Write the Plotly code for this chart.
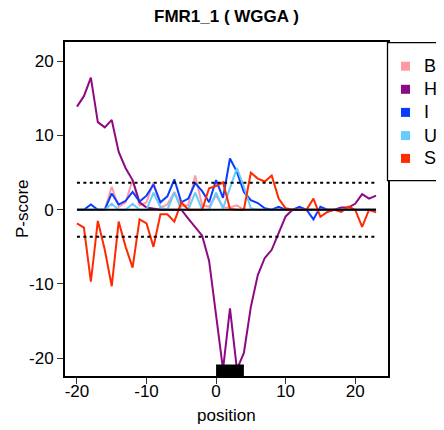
import plotly.graph_objects as go

# ---------------- data ----------------
positions = list(range(-20, 24))
series_names = ["B", "H", "I", "U", "S"]
series_colors = ["#FF9AA2", "#8E0A83", "#0A3CFF", "#66CCFF", "#FF2A00"]

B = [0, 0, 0, 0, 0, 3.1, 0.4, 1.0, 4.0, 0.6,
     1.0, 3.7, 0.3, 0.7, 2.4, 0.5, 0.6, 4.6, 0.6, 0.4,
     2.0, 0.3, 0.3, 0.6, 0, 0, 0, 0, 0, 0,
     0, 0, 0, 0, 0, 0, 0, 0, 0, 0,
     0, 0, 0, 0]
H = [13.9, 15.3, 17.8, 11.8, 11.1, 12.1, 7.8, 5.6, 4.0, 1.0,
     0.3, 0.1, 0.0, 0.0, 0.0, 0.0, -1.2, -2.3, -3.5, -6.9,
     -14.0, -21.5, -13.3, -21.5, -19.3, -13.1, -8.8, -6.5, -5.4, -3.2,
     -0.9, 0.0, 0.0, 0.0, 0.0, 0.0, 0.0, 0.0, 0.3, 0.3,
     0.8, 2.1, 1.5, 1.9]
I = [0, 0, 0.7, 0, 0, 2.2, 0.7, 1.2, 2.4, 1.1,
     1.9, 3.4, 1.0, 1.8, 4.1, 1.0, 1.5, 3.6, 2.5, 1.0,
     4.0, 1.6, 6.9, 5.1, 2.4, 1.3, 0.9, 0.2, 0.0, 0.4,
     0, 0, 0.4, 0, -1.3, 0.4, 0, 0, 0, 0,
     0, 0, 0, 0]
U = [0, 0, 0, 0, 0, 0.8, 0, 0, 0.8, 0,
     0, 2.3, 0.3, 0, 2.3, 0, 0, 2.3, 0, 0,
     2.3, 0.2, 3.0, 5.6, 3.1, 0.2, 0, 0, 0, 0,
     0, 0, 0, 0, 0, 0, 0, 0, 0, 0,
     0, 0, 0, 0]
S = [-1.85, -2.4, -9.7, -1.5, -5.4, -10.3, -1.6, -5.0, -7.8, -1.3,
     -1.85, -5.0, -0.6, -0.6, -1.6, 1.0, 0.0, 0.0, 0.0, 2.9,
     3.2, 3.7, 0.1, 0.0, 0.0, 5.0, 4.2, 3.8, 4.6, 1.5,
     0.2, 0.0, 0.0, 0.0, 1.5, -0.95, -0.3, 0.0, -0.3, 0.4,
     0.0, -2.3, 0.0, -0.35]
series_values = [B, H, I, U, S]

threshold = 3.65
motif_start, motif_end = 0, 4
x_ticks = [-20, -10, 0, 10, 20]
x_tick_labels = ["-20", "-10", "0", "10", "20"]
y_ticks = [-20, -10, 0, 10, 20]
y_tick_labels = ["-20", "-10", "0", "10", "20"]
title_text = "FMR1_1 ( WGGA )"

# ---------------- layout geometry ----------------
# the page body has an 8px default margin, so the figure is shrunk and shifted
OFF = 8
W, Hpx = 444, 430                      # target picture size
FW, FH = W - OFF, Hpx - OFF            # figure size
PL, PR, PT, PB = 65, 388, 42, 376      # plot box in target pixel coords
ML, MT = PL - OFF, PT - OFF
MR, MB = W - PR, Hpx - PB
x_range = [-21.72, 24.72]
y_range = [-22.4, 22.6]
FONT = "Liberation Sans, Arial, Helvetica, sans-serif"
FS = 17

pw = PR - PL
ph = PB - PT


def px_x(px):
    return (px - PL) / pw


def px_y(py):
    return (PB - py) / ph


fig = go.Figure()

for name, color, vals in zip(series_names, series_colors, series_values):
    fig.add_trace(go.Scatter(x=positions, y=vals, mode="lines", name=name,
                             line=dict(color=color, width=2), showlegend=False))

# reference lines
xmin, xmax = positions[0], positions[-1]
fig.add_trace(go.Scatter(x=[xmin, xmax], y=[0, 0], mode="lines",
                         line=dict(color="black", width=2.2), showlegend=False))
for t in (threshold, -threshold):
    fig.add_trace(go.Scatter(x=[xmin, xmax], y=[t, t], mode="lines",
                             line=dict(color="black", width=2, dash="3px,3.4px"),
                             showlegend=False))

shapes = [
    dict(type="rect", xref="x", yref="y", x0=motif_start, x1=motif_end,
         y0=y_range[0], y1=-20.85, fillcolor="black", line=dict(width=0),
         layer="above"),
    # legend box
    dict(type="rect", xref="paper", yref="paper", x0=px_x(387.5), x1=px_x(470),
         y0=px_y(180.7), y1=px_y(42.7), line=dict(color="black", width=1.3),
         fillcolor="white", layer="above"),
]
annotations = []
item_y = [66.2, 89.3, 112.4, 135.6, 158.4]
for name, color, yy in zip(series_names, series_colors, item_y):
    shapes.append(dict(type="rect", xref="paper", yref="paper",
                       x0=px_x(401), x1=px_x(410), y0=px_y(yy + 4.5), y1=px_y(yy - 4.5),
                       fillcolor=color, line=dict(width=0), layer="above"))
    annotations.append(dict(text=name, xref="paper", yref="paper", x=px_x(422),
                            y=px_y(yy), xanchor="left", yanchor="middle",
                            showarrow=False, font=dict(size=FS + 1, color="black", family=FONT)))

annotations += [
    dict(text="<b>" + title_text + "</b>", xref="paper", yref="paper",
         x=0.5, y=px_y(17), xanchor="center", yanchor="middle", showarrow=False,
         font=dict(size=FS, color="black", family=FONT)),
    dict(text="position", xref="paper", yref="paper", x=0.5, y=px_y(415),
         xanchor="center", yanchor="middle", showarrow=False,
         font=dict(size=FS, color="black", family=FONT)),
    dict(text="P-score", xref="paper", yref="paper", x=px_x(22), y=0.5,
         xanchor="center", yanchor="middle", showarrow=False, textangle=-90,
         font=dict(size=FS, color="black", family=FONT)),
]

fig.update_layout(
    width=FW, height=FH,
    margin=dict(l=ML, r=MR, t=MT, b=MB, pad=0),
    paper_bgcolor="white", plot_bgcolor="white",
    font=dict(family=FONT, size=FS, color="black"),
    showlegend=False,
    shapes=shapes, annotations=annotations,
    xaxis=dict(range=x_range, tickmode="array", tickvals=x_ticks, ticktext=x_tick_labels,
               ticks="outside", ticklen=6, tickwidth=1.3, tickcolor="#333",
               showline=True, linecolor="black", linewidth=2, mirror=True,
               showgrid=False, zeroline=False, tickfont=dict(size=FS),
               ticklabelstandoff=-7),
    yaxis=dict(range=y_range, tickmode="array", tickvals=y_ticks, ticktext=y_tick_labels,
               ticks="outside", ticklen=6, tickwidth=1.3, tickcolor="#333",
               showline=True, linecolor="black", linewidth=2, mirror=True,
               showgrid=False, zeroline=False, tickfont=dict(size=FS)),
)

fig.write_html("out.html")
